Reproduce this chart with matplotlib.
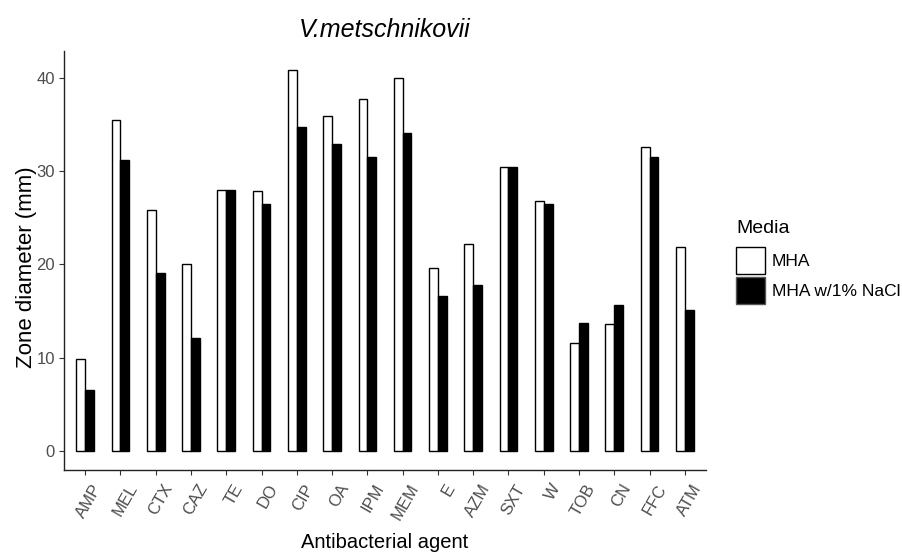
import matplotlib
matplotlib.use("Agg")
import matplotlib.pyplot as plt
from matplotlib.patches import Patch
from matplotlib.transforms import ScaledTranslation
import numpy as np

plt.rcParams['font.family'] = ['Liberation Sans', 'DejaVu Sans']

agents = ["AMP", "MEL", "CTX", "CAZ", "TE", "DO", "CIP", "OA", "IPM", "MEM",
          "E", "AZM", "SXT", "W", "TOB", "CN", "FFC", "ATM"]
mha = [9.8, 35.4, 25.8, 20.0, 28.0, 27.85, 40.8, 35.85, 37.65, 40.0,
       19.6, 22.2, 30.4, 26.8, 11.6, 13.65, 32.55, 21.8]
mha_nacl = [6.5, 31.2, 19.1, 12.05, 27.9, 26.4, 34.75, 32.85, 31.45, 34.1,
            16.6, 17.8, 30.4, 26.4, 13.7, 15.6, 31.45, 15.05]
series_names = ["MHA", "MHA w/1% NaCl"]
legend_title = "Media"
yticks = [0, 10, 20, 30, 40]

W, H = 902, 554
fig = plt.figure(figsize=(W / 100, H / 100), dpi=100)
ax_l, ax_r, ax_t, ax_b = 64, 706, 51, 470
ax = fig.add_axes([ax_l / W, 1 - ax_b / H, (ax_r - ax_l) / W, (ax_b - ax_t) / H])

x = np.arange(len(agents))
bw = 0.25
ax.bar(x - bw / 2, mha, width=bw, facecolor="white", edgecolor="black", linewidth=1.0)
ax.bar(x + bw / 2, mha_nacl, width=bw, facecolor="black", edgecolor="black", linewidth=1.0)

ymax = max(max(mha), max(mha_nacl))
ax.set_ylim(-0.05 * ymax, ymax * 1.05)
ax.set_xlim(-0.6, len(agents) - 1 + 0.6)

for s in ["top", "right"]:
    ax.spines[s].set_visible(False)
for s in ["left", "bottom"]:
    ax.spines[s].set_color("#222222")
    ax.spines[s].set_linewidth(1.0)

ax.set_yticks(yticks)
ax.set_yticklabels([str(t) for t in yticks])
ax.set_xticks(x)
ax.set_xticklabels(agents, rotation=60, ha="right", va="center", rotation_mode="anchor")
ax.tick_params(axis="both", colors="#333333", length=3.5, width=0.8, labelsize=12,
               labelcolor="#4D4D4D")
ax.tick_params(axis="x", pad=4)
ax.tick_params(axis="y", pad=3)
off = ScaledTranslation(13 / 100, -5 / 100, fig.dpi_scale_trans)
for lab in ax.get_xticklabels():
    lab.set_transform(lab.get_transform() + off)

ax.set_ylabel("Zone diameter (mm)", fontsize=16, va="center", ha="center")
ax.yaxis.set_label_coords(-(ax_l - 27) / (ax_r - ax_l), (ax_b - 267) / (ax_b - ax_t))
ax.set_xlabel("Antibacterial agent", fontsize=14.5, va="center", ha="center")
ax.xaxis.set_label_coords(0.5, -(543 - ax_b) / (ax_b - ax_t))
ax.set_title("V.metschnikovii", fontsize=18, style="italic", pad=10)

fig.text(736 / W, 1 - 228 / H, legend_title, fontsize=14, ha="left", va="center")
handles = [Patch(facecolor="white", edgecolor="black", linewidth=1.0),
           Patch(facecolor="black", edgecolor="#555555", linewidth=1.0)]
leg = fig.legend(handles, series_names, loc="upper left",
                 bbox_to_anchor=(736 / W, 1 - 247 / H), frameon=False,
                 fontsize=12.5, handlelength=1.65, handleheight=2.05,
                 labelspacing=0.15, handletextpad=0.4, borderpad=0, borderaxespad=0)

fig.savefig("out.png", dpi=100)
